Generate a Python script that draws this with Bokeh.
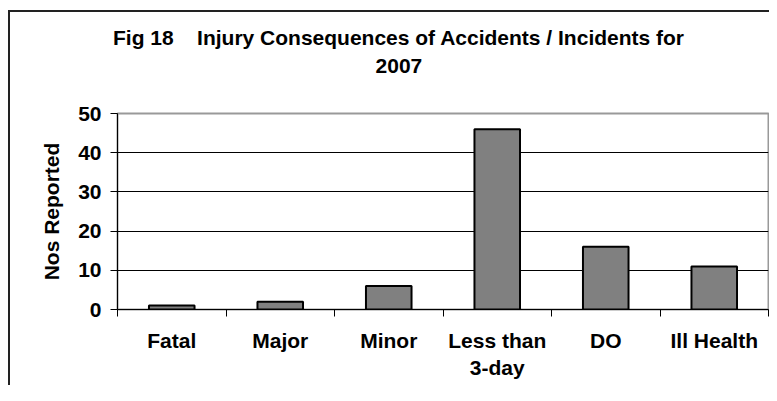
from bokeh.plotting import figure
from bokeh.models import Range1d, FixedTicker, LinearAxis, InlineStyleSheet
from bokeh.embed import file_html
from bokeh.resources import INLINE

# ---- data ----
categories = ["Fatal", "Major", "Minor", "Less than\n3-day", "DO", "Ill Health"]
values = [1, 2, 6, 46, 16, 11]
y_ticks = [0, 10, 20, 30, 40, 50]
title_line1 = "Fig 18\u00a0\u00a0\u00a0\u00a0Injury Consequences of Accidents / Incidents for"
title_line2 = "2007"
y_label = "Nos Reported"

FONT = "Liberation Sans"
FS = "21px"

n = len(categories)
xs = [i + 0.5 for i in range(n)]
title_center = 2.594   # horizontal centre of the two-line title, in category units

p = figure(frame_width=651, frame_height=196,
           min_border_left=117, min_border_right=1,
           min_border_top=113, min_border_bottom=76,
           x_range=Range1d(0, n), y_range=Range1d(0, 50),
           output_backend="svg", toolbar_location=None,
           background_fill_color="white", border_fill_color="white")

# outer chart-area border (only its left and top edges fall inside the window)
p.stylesheets = [InlineStyleSheet(css="""
:host { position: relative; overflow: hidden; }
:host::after {
  content: "";
  position: absolute;
  left: 8px; top: 10px; right: -40px; bottom: -40px;
  border-left: 2px solid #222222;
  border-top: 2px solid #222222;
  pointer-events: none;
  z-index: 100;
}
""")]

p.vbar(x=xs, top=values, width=0.42, bottom=0,
       fill_color="#808080", line_color="black", line_width=2)

# x axis: labels at category centres, ticks at category boundaries
xa = p.xaxis[0]
xa.ticker = FixedTicker(ticks=xs, minor_ticks=list(range(n + 1)))
xa.major_label_overrides = {x: c for x, c in zip(xs, categories)}
xa.major_tick_out = 0
xa.major_tick_in = 0
xa.minor_tick_out = 7
xa.minor_tick_in = 0
xa.minor_tick_line_color = "black"
xa.axis_line_color = "black"
xa.major_label_standoff = 12
xa.major_label_text_font = FONT
xa.major_label_text_font_style = "bold"
xa.major_label_text_font_size = FS
xa.major_label_text_color = "black"

ya = p.yaxis[0]
ya.ticker = FixedTicker(ticks=y_ticks)
ya.major_tick_out = 7
ya.major_tick_in = 0
ya.minor_tick_line_color = None
ya.axis_line_color = "black"
ya.major_label_standoff = 9
ya.major_label_text_font = FONT
ya.major_label_text_font_style = "bold"
ya.major_label_text_font_size = FS
ya.major_label_text_color = "black"
ya.axis_label = y_label
ya.axis_label_text_font = FONT
ya.axis_label_text_font_style = "bold"
ya.axis_label_text_font_size = FS
ya.axis_label_text_color = "black"
ya.axis_label_standoff = 12

p.xgrid.visible = False
p.ygrid.ticker = FixedTicker(ticks=[10, 20, 30, 40])
p.ygrid.grid_line_color = "black"
p.ygrid.grid_line_width = 1

p.outline_line_color = "#999999"
p.outline_line_width = 2

# two-line chart title, centred over the whole chart area
ta = LinearAxis(ticker=FixedTicker(ticks=[title_center], minor_ticks=[]),
                major_label_overrides={title_center: title_line1 + "\n" + title_line2},
                axis_line_color=None, major_tick_line_color=None,
                minor_tick_line_color=None, major_tick_out=0, major_tick_in=0,
                major_label_standoff=37,
                major_label_text_font=FONT, major_label_text_font_style="bold",
                major_label_text_font_size=FS, major_label_text_color="black")
p.add_layout(ta, "above")

open("out.html", "w").write(file_html(p, INLINE))
